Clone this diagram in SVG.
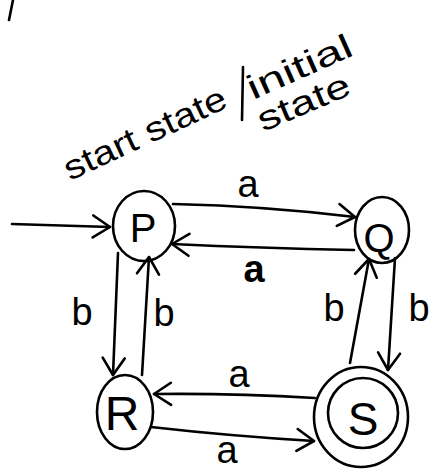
<svg xmlns="http://www.w3.org/2000/svg" width="437" height="472" viewBox="0 0 437 472">
  <defs>
    <marker id="arrow" markerUnits="userSpaceOnUse" markerWidth="40" markerHeight="40" viewBox="-20 -20 40 40" refX="0" refY="0" orient="auto">
      <path d="M-17,-11 L0,0 L-17,11" fill="none" stroke="#000" stroke-width="2.6" stroke-linecap="round" stroke-linejoin="round"/>
    </marker>
    <style>
      .state { fill: none; stroke: #000; stroke-width: 2.6; }
      .edge { fill: none; stroke: #000; stroke-width: 2.6; stroke-linecap: round; marker-end: url(#arrow); }
      .name { font-family: "Liberation Sans", Arial, sans-serif; fill: #000; text-anchor: middle; }
      .lbl { font-family: "Liberation Sans", Arial, sans-serif; font-size: 38px; fill: #000; text-anchor: middle; }
      .note { font-family: "Liberation Sans", Arial, sans-serif; font-size: 34px; fill: #000; }
    </style>
  </defs>
  <rect width="437" height="472" fill="#fff"/>

  <!-- stray pen mark at the top edge -->
  <line x1="13" y1="0" x2="9" y2="20" stroke="#000" stroke-width="2.6" stroke-linecap="round"/>

  <!-- annotation for the start state -->
  <g id="annotation">
    <text class="note" transform="translate(70,181) rotate(-25)" textLength="176" lengthAdjust="spacingAndGlyphs">start state</text>
    <line x1="243" y1="67" x2="242" y2="120" stroke="#000" stroke-width="2.6" stroke-linecap="round"/>
    <text class="note" transform="translate(253,100) rotate(-24)" textLength="112" lengthAdjust="spacingAndGlyphs">initial</text>
    <text class="note" transform="translate(263,132) rotate(-23)" textLength="98" lengthAdjust="spacingAndGlyphs">state</text>
  </g>

  <!-- transitions -->
  <g id="connectors">
    <path class="edge" d="M12,224 L110,227"/>
    <path class="edge" d="M173,204 Q265,206 355,217"/>
    <path class="edge" d="M354,250 Q260,248 172,244"/>
    <path class="edge" d="M118,253 L113,375"/>
    <path class="edge" d="M142,375 L149,257"/>
    <path class="edge" d="M395,258 L388,370"/>
    <path class="edge" d="M350,363 L369,259"/>
    <path class="edge" d="M315,398 Q230,393 154,394"/>
    <path class="edge" d="M151,427 Q230,436 314,441"/>
    <text class="lbl" x="248" y="197">a</text>
    <text class="lbl" x="254" y="282" font-weight="bold">a</text>
    <text class="lbl" x="82" y="325">b</text>
    <text class="lbl" x="164" y="326">b</text>
    <text class="lbl" x="334" y="321">b</text>
    <text class="lbl" x="419" y="321">b</text>
    <text class="lbl" x="239" y="387">a</text>
    <text class="lbl" x="227" y="463">a</text>
  </g>

  <!-- states -->
  <g id="P">
    <ellipse class="state" cx="144" cy="226" rx="31" ry="35"/>
    <text class="name" x="143" y="242" font-size="40">P</text>
  </g>
  <g id="Q">
    <ellipse class="state" cx="382" cy="230" rx="27" ry="33"/>
    <text class="name" x="379" y="252" font-size="40">Q</text>
  </g>
  <g id="R">
    <ellipse class="state" cx="125" cy="412" rx="28" ry="37"/>
    <text class="name" x="122" y="430" font-size="48">R</text>
  </g>
  <g id="S">
    <ellipse class="state" cx="361" cy="417" rx="47" ry="50"/>
    <ellipse class="state" cx="363" cy="413" rx="35" ry="35"/>
    <text class="name" x="363" y="435" font-size="46">S</text>
  </g>
</svg>
